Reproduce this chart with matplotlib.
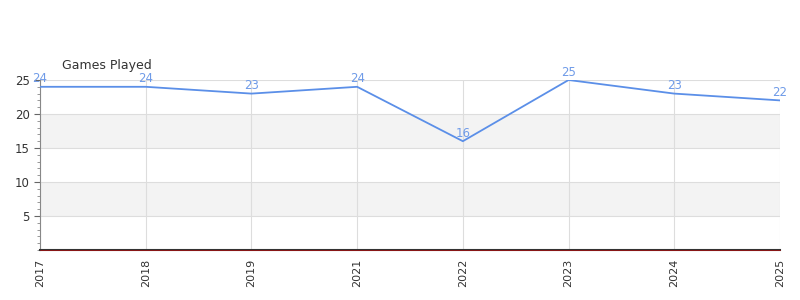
import matplotlib
matplotlib.use("Agg")
import matplotlib.pyplot as plt
from matplotlib.ticker import MultipleLocator

years = ["2017", "2018", "2019", "2021", "2022", "2023", "2024", "2025"]
games = [24, 24, 23, 24, 16, 25, 23, 22]
yticks = [5, 10, 15, 20, 25]

fig = plt.figure(figsize=(8, 3), dpi=100)
ax = fig.add_axes([40/800, 1-250/300, 740/800, 170/300])
x = list(range(len(years)))

ax.set_xlim(0, len(years)-1)
ax.set_ylim(0, 25)
for lo in (5, 15):
    ax.axhspan(lo, lo+5, color="#f3f3f3", zorder=0, lw=0)
for t in yticks:
    ax.axhline(t, color="#dddddd", lw=0.8, zorder=1)
for xi in x:
    ax.axvline(xi, color="#dddddd", lw=0.8, zorder=1)

ax.plot(x, games, color="#5b8fe8", lw=1.3, zorder=3)
for xi, v in zip(x, games):
    ax.annotate(str(v), (xi, v), xytext=(0, 1), textcoords="offset points",
                ha="center", va="bottom", color="#6f9be8", fontsize=8.5, zorder=4,
                annotation_clip=False)

ax.set_xticks(x)
ax.set_xticklabels(years, rotation=90, fontsize=8, color="#333333")
ax.set_yticks(yticks)
ax.set_yticklabels([str(t) for t in yticks], fontsize=8.5, color="#333333")
ax.yaxis.set_minor_locator(MultipleLocator(1))
ax.tick_params(axis="y", which="major", length=4, color="#666666")
ax.tick_params(axis="y", which="minor", length=2, color="#888888")
ax.tick_params(axis="x", length=0, pad=6)

for s in ("top", "right"):
    ax.spines[s].set_visible(False)
ax.spines["left"].set_color("#888888")
ax.spines["bottom"].set_color("#333333")
ax.spines["bottom"].set_linewidth(1.5)
ax.axhline(0, color="#cc0000", lw=0.4, zorder=5, clip_on=False)

fig.text(62/800, 1-66/300, "Games Played", fontsize=9, color="#333333", va="center", ha="left")

fig.savefig("out.png", dpi=100)
